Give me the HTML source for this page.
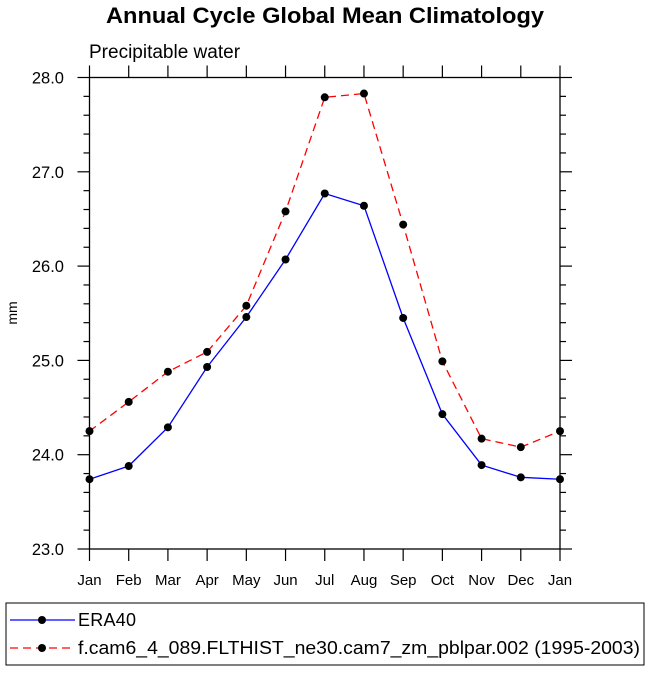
<!DOCTYPE html>
<html><head><meta charset="utf-8"><style>
body{margin:0;background:#fff}
svg text{font-family:"Liberation Sans",Arial,sans-serif}
</style></head><body>
<svg id="c" width="650" height="672" xmlns="http://www.w3.org/2000/svg">
<text x="325" y="23" text-anchor="middle" font-size="22" font-weight="bold" textLength="438" lengthAdjust="spacingAndGlyphs">Annual Cycle Global Mean Climatology</text>
<text x="89" y="58" font-size="19">Precipitable water</text>
<text transform="translate(17,313) rotate(-90)" text-anchor="middle" font-size="14">mm</text>
<g id="axes"></g><g id="series"></g>
<rect x="6" y="603" width="638" height="62" fill="none" stroke="#000" stroke-width="1"/>
<g>
<line x1="10" y1="620" x2="75" y2="620" stroke="#0000ff" stroke-width="1.3"/><circle cx="42" cy="620" r="4" fill="#000"/>
<text x="78" y="626" font-size="18" textLength="58">ERA40</text></g>
<g>
<line x1="10" y1="648" x2="75" y2="648" stroke="#ff0000" stroke-width="1.3" stroke-dasharray="8,5"/><circle cx="42" cy="648" r="4" fill="#000"/>
<text x="78" y="654" font-size="18" textLength="562" lengthAdjust="spacingAndGlyphs">f.cam6_4_089.FLTHIST_ne30.cam7_zm_pblpar.002 (1995-2003)</text></g>
</svg>
<script>
const months=["Jan","Feb","Mar","Apr","May","Jun","Jul","Aug","Sep","Oct","Nov","Dec","Jan"];
const era40=[23.74,23.88,24.29,24.93,25.46,26.07,26.77,26.64,25.45,24.43,23.89,23.76,23.74];
const model=[24.25,24.56,24.88,25.09,25.58,26.58,27.79,27.83,26.44,24.99,24.17,24.08,24.25];
const yTicks=[23.0,24.0,25.0,26.0,27.0,28.0];
const NS="http://www.w3.org/2000/svg";
const L=89.5,R=560,T=77.5,B=549,ymin=23,ymax=28;
const xs=i=>L+(R-L)*i/(months.length-1);
const ys=v=>B-(v-ymin)/(ymax-ymin)*(B-T);
function mk(t,a,p){const e=document.createElementNS(NS,t);for(const k in a)e.setAttribute(k,a[k]);p.appendChild(e);return e;}
const ax=document.getElementById('axes');
const fr=mk('rect',{x:L,y:T,width:R-L,height:B-T,fill:'none',stroke:'#000','stroke-width':1.3},ax);


for(let v=ymin;v<=ymax+1e-9;v+=0.2){
  const y=ys(v);const maj=Math.abs(v-Math.round(v))<1e-6;const len=maj?12:6;
  mk('line',{x1:L,y1:y,x2:L-len,y2:y,stroke:'#000','stroke-width':1.2},ax);
  mk('line',{x1:R,y1:y,x2:R+len,y2:y,stroke:'#000','stroke-width':1.2},ax);
}
yTicks.forEach(v=>{const t=mk('text',{x:64,y:ys(v)+6,'text-anchor':'end','font-size':16.5},ax);t.textContent=v.toFixed(1);

});
months.forEach((m,i)=>{const x=xs(i);
  mk('line',{x1:x,y1:B,x2:x,y2:B+12,stroke:'#000','stroke-width':1.2},ax);
  mk('line',{x1:x,y1:T,x2:x,y2:T-12,stroke:'#000','stroke-width':1.2},ax);
  const t=mk('text',{x:x,y:B+36,'text-anchor':'middle','font-size':15},ax);t.textContent=m;
  
  });
const sg=document.getElementById('series');
function series(d,col,dash,name){
  const g=mk('g',{},sg);
  
  
  const a={points:d.map((v,i)=>xs(i)+','+ys(v)).join(' '),fill:'none',stroke:col,'stroke-width':1.3};
  if(dash)a['stroke-dasharray']=dash;
  mk('polyline',a,g);
  d.forEach((v,i)=>{const c=mk('circle',{cx:xs(i),cy:ys(v),r:4,fill:'#000'},g);
    
    });
}
series(era40,'#0000ff',null,'series-era40');
series(model,'#ff0000','8,5','series-model');
</script>
</body></html>
